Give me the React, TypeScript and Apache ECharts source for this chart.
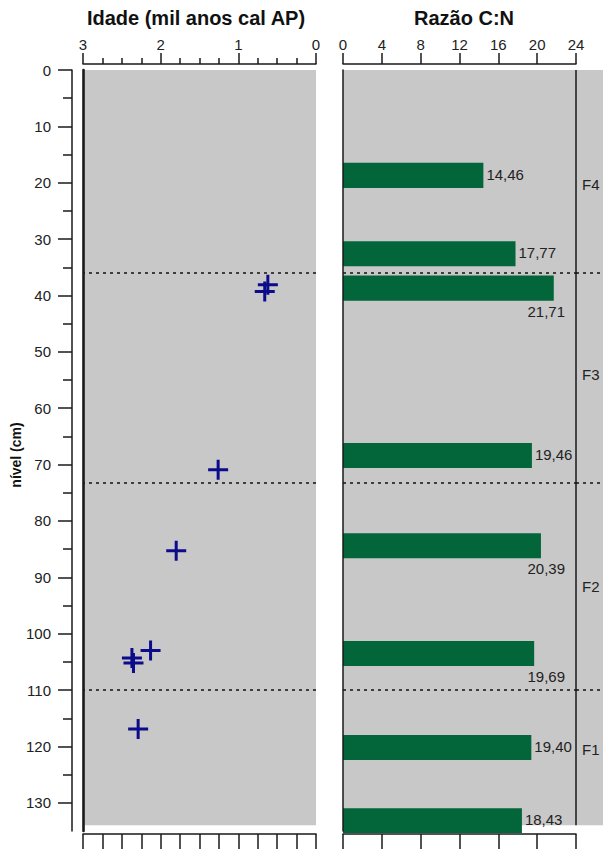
import React, { useEffect, useRef } from "react";
import * as echarts from "echarts";

// ---- data ----
const ageValues = [0.62, 0.66, 1.26, 1.8, 2.13, 2.37, 2.35, 2.29];
const ageLevels = [38.1, 39.3, 70.9, 85.3, 103.0, 104.3, 105.2, 116.9];

const cnValues = [14.46, 17.77, 21.71, 19.46, 20.39, 19.69, 19.4, 18.43];
const cnLevels = [18.7, 32.6, 38.7, 68.4, 84.4, 103.5, 120.2, 133.2];

const zoneBoundaries = [36, 73.2, 110];
const zoneNames = ["F4", "F3", "F2", "F1"];
const zoneLabelLevels = [20.4, 54.0, 91.7, 120.6];

const levelTicks = [0, 10, 20, 30, 40, 50, 60, 70, 80, 90, 100, 110, 120, 130];
const levelMinorTicks = [5, 15, 25, 35, 45, 55, 65, 75, 85, 95, 105, 115, 125];

// ---- styles ----
const FONT = "'Liberation Sans', Arial, Helvetica, sans-serif";
const GRAY = "#c8c8c8";
const GREEN = "#03663a";
const NAVY = "#0c0c8a";
const INK = "#1a1a1a";
const LEVEL_MAX = 135;
const SEDIMENT_BOTTOM = 134;
const BAR_THICKNESS = 4.45;
const labelsBelow = [2, 4, 5];

const PLUS = "path://M8.5,0h3v8.5h8.5v3h-8.5v8.5h-3v-8.5h-8.5v-3h8.5z";

const fmt = (v: number) => v.toFixed(2).replace(".", ",");

export default function App() {
  const ref = useRef<HTMLDivElement>(null);

  useEffect(() => {
    document.body.style.margin = "0";
    if (!ref.current) return;
    const chart = echarts.init(ref.current, undefined, { renderer: "svg" });

    const axisLine = { show: true, onZero: false, lineStyle: { color: INK, width: 1.5 } };
    const noSplit = { show: false };
    const tickStyle = { color: INK, width: 1.5 };

    const levelAxisBase = {
      type: "value",
      inverse: true,
      min: 0,
      max: LEVEL_MAX,
      splitLine: noSplit,
      z: 5,
    };
    const hiddenX = (gridIndex: number) => ({
      gridIndex,
      type: "value",
      min: 0,
      max: 1,
      show: false,
    });

    const grayArea = {
      silent: true,
      itemStyle: { color: GRAY },
      data: [[{ yAxis: 0 }, { yAxis: SEDIMENT_BOTTOM }]],
    };
    const dottedLines = zoneBoundaries.map((v) => ({ yAxis: v }));
    const markLineBase = {
      silent: true,
      symbol: ["none", "none"],
      label: { show: false },
      lineStyle: { color: "#111", width: 1.6, type: [3, 4] as any },
    };

    const option: any = {
      animation: false,
      textStyle: { fontFamily: FONT },
      grid: [
        { left: 83, top: 70, width: 233, height: 761 }, // 0 age panel
        { left: 343, top: 70, width: 233, height: 761 }, // 1 C:N panel
        { left: 576, top: 70, width: 27, height: 761 }, // 2 zone strip
        { left: 72, top: 70, width: 11, height: 761 }, // 3 level axis (major)
        { left: 72, top: 70, width: 11, height: 761 }, // 4 level axis (minor)
      ],
      xAxis: [
        {
          gridIndex: 0,
          type: "value",
          position: "top",
          inverse: true,
          min: 0,
          max: 3,
          interval: 1,
          offset: 6,
          axisLine,
          axisTick: { show: true, length: 11, lineStyle: tickStyle },
          minorTick: { show: true, splitNumber: 4, length: 6, lineStyle: tickStyle },
          axisLabel: { fontSize: 15, color: "#222", margin: 12, fontFamily: FONT },
          splitLine: noSplit,
          minorSplitLine: noSplit,
          z: 5,
        },
        {
          gridIndex: 0,
          type: "value",
          position: "bottom",
          inverse: true,
          min: 0,
          max: 3,
          interval: 0.25,
          offset: 3,
          axisLine,
          axisTick: { show: true, length: 16, lineStyle: tickStyle },
          axisLabel: { show: false },
          splitLine: noSplit,
          z: 5,
        },
        {
          gridIndex: 1,
          type: "value",
          position: "top",
          min: 0,
          max: 24,
          interval: 4,
          offset: 6,
          axisLine,
          axisTick: { show: true, length: 11, lineStyle: tickStyle },
          axisLabel: { fontSize: 15, color: "#222", margin: 12, fontFamily: FONT },
          splitLine: noSplit,
          z: 5,
        },
        {
          gridIndex: 1,
          type: "value",
          position: "bottom",
          min: 0,
          max: 24,
          interval: 4,
          offset: 3,
          axisLine,
          axisTick: { show: true, length: 16, lineStyle: tickStyle },
          axisLabel: { show: false },
          splitLine: noSplit,
          z: 5,
        },
        hiddenX(2),
        hiddenX(3),
        hiddenX(4),
      ],
      yAxis: [
        {
          ...levelAxisBase,
          gridIndex: 0,
          position: "left",
          axisLine: { show: true, onZero: false, lineStyle: { color: INK, width: 2.6 } },
          axisTick: { show: false },
          axisLabel: { show: false },
        },
        {
          ...levelAxisBase,
          gridIndex: 1,
          position: "left",
          axisLine,
          axisTick: { show: false },
          axisLabel: { show: false },
        },
        {
          ...levelAxisBase,
          gridIndex: 2,
          show: false,
        },
        {
          ...levelAxisBase,
          gridIndex: 3,
          position: "left",
          axisLine,
          axisTick: {
            show: true,
            length: 14,
            customValues: levelTicks,
            lineStyle: tickStyle,
          },
          axisLabel: {
            fontSize: 15,
            color: "#222",
            margin: 21,
            fontFamily: FONT,
            customValues: levelTicks,
          },
        },
        {
          ...levelAxisBase,
          gridIndex: 4,
          position: "left",
          axisLine: { show: false, onZero: false },
          axisTick: {
            show: true,
            length: 9,
            customValues: levelMinorTicks,
            lineStyle: tickStyle,
          },
          axisLabel: { show: false },
        },
      ],
      graphic: [
        {
          type: "text",
          x: 196,
          y: 18,
          style: {
            text: "Idade (mil anos cal AP)",
            font: `bold 20px ${FONT}`,
            fill: "#111",
            align: "center",
            verticalAlign: "middle",
          },
        },
        {
          type: "text",
          x: 464,
          y: 18,
          style: {
            text: "Razão C:N",
            font: `bold 20px ${FONT}`,
            fill: "#111",
            align: "center",
            verticalAlign: "middle",
          },
        },
        {
          type: "text",
          x: 16,
          y: 455,
          rotation: Math.PI / 2,
          style: {
            text: "nível (cm)",
            font: `bold 14px ${FONT}`,
            fill: "#111",
            align: "center",
            verticalAlign: "middle",
          },
        },
      ],
      series: [
        {
          type: "line",
          xAxisIndex: 0,
          yAxisIndex: 0,
          data: [],
          z: 1,
          markArea: grayArea,
          markLine: { ...markLineBase, data: dottedLines },
        },
        {
          type: "scatter",
          xAxisIndex: 0,
          yAxisIndex: 0,
          symbol: PLUS,
          symbolSize: 20,
          itemStyle: { color: NAVY, opacity: 1 },
          data: ageValues.map((a, i) => [a, ageLevels[i]]),
          z: 3,
        },
        {
          type: "line",
          xAxisIndex: 2,
          yAxisIndex: 1,
          data: [],
          z: 1,
          markArea: grayArea,
          markLine: {
            ...markLineBase,
            data: [
              ...dottedLines,
              [
                { coord: [24, 0], lineStyle: { color: INK, width: 1.5, type: "solid" } },
                { coord: [24, SEDIMENT_BOTTOM] },
              ],
            ],
          },
        },
        {
          type: "custom",
          xAxisIndex: 2,
          yAxisIndex: 1,
          z: 3,
          encode: { x: 0, y: 1 },
          data: cnValues.map((v, i) => [v, cnLevels[i]]),
          renderItem: (params: any, api: any) => {
            const val = api.value(0);
            const lvl = api.value(1);
            const p0 = api.coord([0, lvl]);
            const p1 = api.coord([val, lvl]);
            const h = api.size([0, BAR_THICKNESS])[1];
            const cs = params.coordSys;
            const shape = echarts.graphic.clipRectByRect(
              { x: p0[0], y: p0[1] - h / 2, width: p1[0] - p0[0], height: h },
              { x: cs.x, y: cs.y, width: cs.width, height: cs.height + 2 }
            );
            const below = labelsBelow.indexOf(params.dataIndex) >= 0;
            return {
              type: "group",
              children: [
                { type: "rect", shape, style: { fill: GREEN } },
                {
                  type: "text",
                  x: below ? cs.x + cs.width - 11 : p1[0] + 3,
                  y: below ? p1[1] + 23 : p1[1] - 1,
                  style: {
                    text: fmt(val),
                    font: `15px ${FONT}`,
                    fill: "#222",
                    align: below ? "right" : "left",
                    verticalAlign: "middle",
                  },
                },
              ],
            };
          },
        },
        {
          type: "line",
          xAxisIndex: 4,
          yAxisIndex: 2,
          data: [],
          z: 1,
          markArea: grayArea,
          markLine: { ...markLineBase, data: dottedLines },
        },
        {
          type: "custom",
          xAxisIndex: 4,
          yAxisIndex: 2,
          z: 3,
          encode: { x: 0, y: 1 },
          data: zoneNames.map((n, i) => [0.55, zoneLabelLevels[i]]),
          renderItem: (params: any, api: any) => {
            const p = api.coord([api.value(0), api.value(1)]);
            return {
              type: "text",
              x: p[0],
              y: p[1],
              style: {
                text: zoneNames[params.dataIndex],
                font: `15px ${FONT}`,
                fill: "#222",
                align: "center",
                verticalAlign: "middle",
              },
            };
          },
        },
      ],
    };

    chart.setOption(option);
    return () => chart.dispose();
  }, []);

  return <div ref={ref} style={{ width: 603, height: 849 }} />;
}
